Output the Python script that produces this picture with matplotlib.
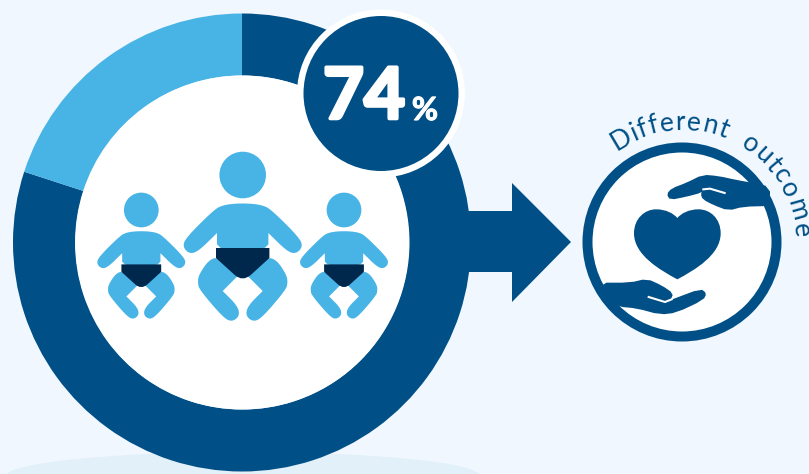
import numpy as np
import matplotlib
matplotlib.use("Agg")
import matplotlib.pyplot as plt
import matplotlib.patheffects as pe
from matplotlib.patches import Circle, Ellipse, Polygon, PathPatch
from matplotlib.path import Path
from matplotlib.textpath import TextPath
from matplotlib.font_manager import FontProperties

# Donut slices as drawn, and the label printed on the badge
slices = [80, 20]
badge_value = "74"
badge_unit = "%"
caption = "Different outcome"

DARK = "#004f86"
LIGHT = "#48b4e6"
NAVY = "#00284d"
BG = "#f0f7fe"
SHADOW = "#e2f0f9"
W, H = 809, 474


def fy(y):
    # picture rows run downwards, the axes upwards
    return H - y


def smooth(points, n=2):
    # corner cutting, closes the outline
    pts = np.asarray(points, dtype=float)
    for _ in range(n):
        nxt = np.roll(pts, -1, axis=0)
        pts = np.column_stack([0.75 * pts + 0.25 * nxt, 0.25 * pts + 0.75 * nxt]).reshape(-1, 2)
    return pts


fig = plt.figure(figsize=(W / 100, H / 100), dpi=100, facecolor=BG)
ax = fig.add_axes([0, 0, 1, 1])
ax.set_facecolor(BG)

# Shadow under the donut
ax.add_patch(Ellipse((243, fy(476)), 474, 48, color=SHADOW, lw=0, zorder=0))

# Donut
ax.pie(slices, colors=[DARK, LIGHT], startangle=90, counterclock=False,
       center=(242, fy(242.5)), radius=229, frame=True,
       wedgeprops=dict(width=229 - 167, linewidth=0))
ax.add_patch(Circle((242.5, fy(242.5)), 167, color="white", lw=0, zorder=2))
ax.set_xlim(0, W)
ax.set_ylim(0, H)
ax.set_aspect("auto")
ax.axis("off")

# Badge
ax.add_patch(Circle((381, fy(93.5)), 84, color="white", lw=0, zorder=6))
ax.add_patch(Circle((381, fy(93.5)), 77.5, color=DARK, lw=0, zorder=7))
ax.text(364, fy(118.5), badge_value, family="Lato", weight="bold", fontsize=51,
        color="white", ha="center", va="baseline", zorder=8,
        path_effects=[pe.withStroke(linewidth=2.6, foreground="white")])
ax.text(425, fy(120), badge_unit, family="Lato", weight="bold", fontsize=23,
        color="white", ha="center", va="baseline", zorder=8,
        path_effects=[pe.withStroke(linewidth=0.8, foreground="white")])

# Arrow between donut and outcome
arrow = [(468, 211), (512, 211), (512, 183), (571, 242), (512, 302), (512, 272), (468, 272)]
ax.add_patch(Polygon([(x, fy(y)) for x, y in arrow], color=DARK, lw=0, zorder=1))

# Baby outlines, left half, offsets from the head centre of the middle baby
upper_half = [(-25.7, 76), (-25.7, 58), (-25.7, 58), (-44, 76), (-53, 79), (-60, 72), (-57, 63),
              (-31, 37), (-21, 30), (0, 28)]
leg_left = [(-34, 85), (-44, 100), (-45, 108), (-43, 115), (-20, 142), (-11, 147), (-3, 141),
            (-5, 131), (-20, 116), (-20, 116), (-20, 116), (-5, 101), (-5, 101), (-24, 82)]


def baby(cx, cy, s):
    def pt(x, y):
        return (cx + s * x, fy(cy + s * y))

    ax.add_patch(Circle(pt(0, 0), 23.3 * s, color=LIGHT, lw=0, zorder=3))
    upper = upper_half + [(-x, y) for x, y in upper_half[-2::-1]]
    pts = smooth(upper, 2)
    ax.add_patch(Polygon([pt(x, y) for x, y in pts], color=LIGHT, lw=0, zorder=3))
    for side in (-1, 1):
        pts = smooth([(side * x, y) for x, y in leg_left], 2)
        ax.add_patch(Polygon([pt(x, y) for x, y in pts], color=LIGHT, lw=0, zorder=3))
    nappy = [
        (pt(-26.7, 73), Path.MOVETO), (pt(26.7, 73), Path.LINETO), (pt(26.7, 83), Path.LINETO),
        (pt(8, 100), Path.LINETO), (pt(0, 107), Path.CURVE3), (pt(-8, 100), Path.CURVE3),
        (pt(-26.7, 83), Path.LINETO), (pt(-26.7, 73), Path.CLOSEPOLY),
    ]
    ax.add_patch(PathPatch(Path([v for v, c in nappy], [c for v, c in nappy]), color=NAVY, lw=0, zorder=4))


baby(242.7, 175, 1.0)
baby(141.3, 210, 0.745)
baby(344, 210, 0.745)

# Outcome emblem
ax.add_patch(Circle((682, fy(242)), 94.5, facecolor="white", edgecolor=DARK, lw=10 * 0.72, zorder=3))


def z2(x, y):
    # coordinates of the emblem crop
    return (570 + x / 3, fy(90 + y / 3))


heart = [
    (z2(322, 568), Path.MOVETO),
    (z2(270, 540), Path.CURVE4), (z2(192, 495), Path.CURVE4), (z2(192, 430), Path.CURVE4),
    (z2(192, 385), Path.CURVE4), (z2(225, 358), Path.CURVE4), (z2(258, 358), Path.CURVE4),
    (z2(288, 358), Path.CURVE4), (z2(310, 370), Path.CURVE4), (z2(322, 384), Path.CURVE4),
    (z2(334, 370), Path.CURVE4), (z2(356, 358), Path.CURVE4), (z2(386, 358), Path.CURVE4),
    (z2(420, 358), Path.CURVE4), (z2(452, 385), Path.CURVE4), (z2(452, 430), Path.CURVE4),
    (z2(452, 495), Path.CURVE4), (z2(374, 540), Path.CURVE4), (z2(322, 568), Path.CURVE4),
]
ax.add_patch(PathPatch(Path([v for v, c in heart], [c for v, c in heart]), color=DARK, lw=0, zorder=4))

top_hand = [(300, 330), (290, 312), (305, 295), (350, 278), (398, 254), (445, 258), (500, 270),
            (545, 278), (600, 290), (600, 348), (520, 350), (475, 362), (430, 345), (398, 328),
            (392, 312), (400, 298), (395, 308), (350, 320)]
low_hand = [(85, 578), (180, 578), (230, 566), (275, 586), (310, 610), (302, 630), (312, 626),
            (392, 596), (410, 610), (400, 630), (320, 668), (270, 674), (200, 655), (145, 650), (105, 630)]
ax.add_patch(Polygon([z2(x, y) for x, y in smooth(top_hand, 1)], color=DARK, lw=0, zorder=5))
ax.add_patch(Polygon([z2(x, y) for x, y in smooth(low_hand, 1)], color=DARK, lw=0, zorder=5))
ax.plot(*zip(*[z2(400, 298), z2(420, 296), z2(464, 309)]), color="white", lw=1.5, zorder=6)
ax.plot(*zip(*[z2(236, 621), z2(285, 636), z2(305, 628)]), color="white", lw=1.5, zorder=6)

# Caption set along an arc round the emblem, tight letters and a wide word gap
fp = FontProperties(family="Lato", size=19)
radius, start, end = 112, 126, 2
w0 = TextPath((0, 0), ".", prop=fp).get_extents().width
advances = []
for i in range(len(caption)):
    w = TextPath((0, 0), caption[: i + 1].replace(" ", "  ") + ".", prop=fp).get_extents().width
    advances.append((w - w0) * 100 / 72)
starts = [0] + advances[:-1]
total = advances[-1]
for ch, a, b in zip(caption, starts, advances):
    if ch == " ":
        continue
    ang = start + (end - start) * ((a + b) / 2) / total
    t = np.radians(ang)
    ax.text(682 + radius * np.cos(t), fy(242) + radius * np.sin(t), ch, fontproperties=fp, color=DARK,
            rotation=ang - 90, rotation_mode="anchor", ha="center", va="baseline", zorder=6)

fig.savefig("out.png", dpi=100, facecolor=BG)
